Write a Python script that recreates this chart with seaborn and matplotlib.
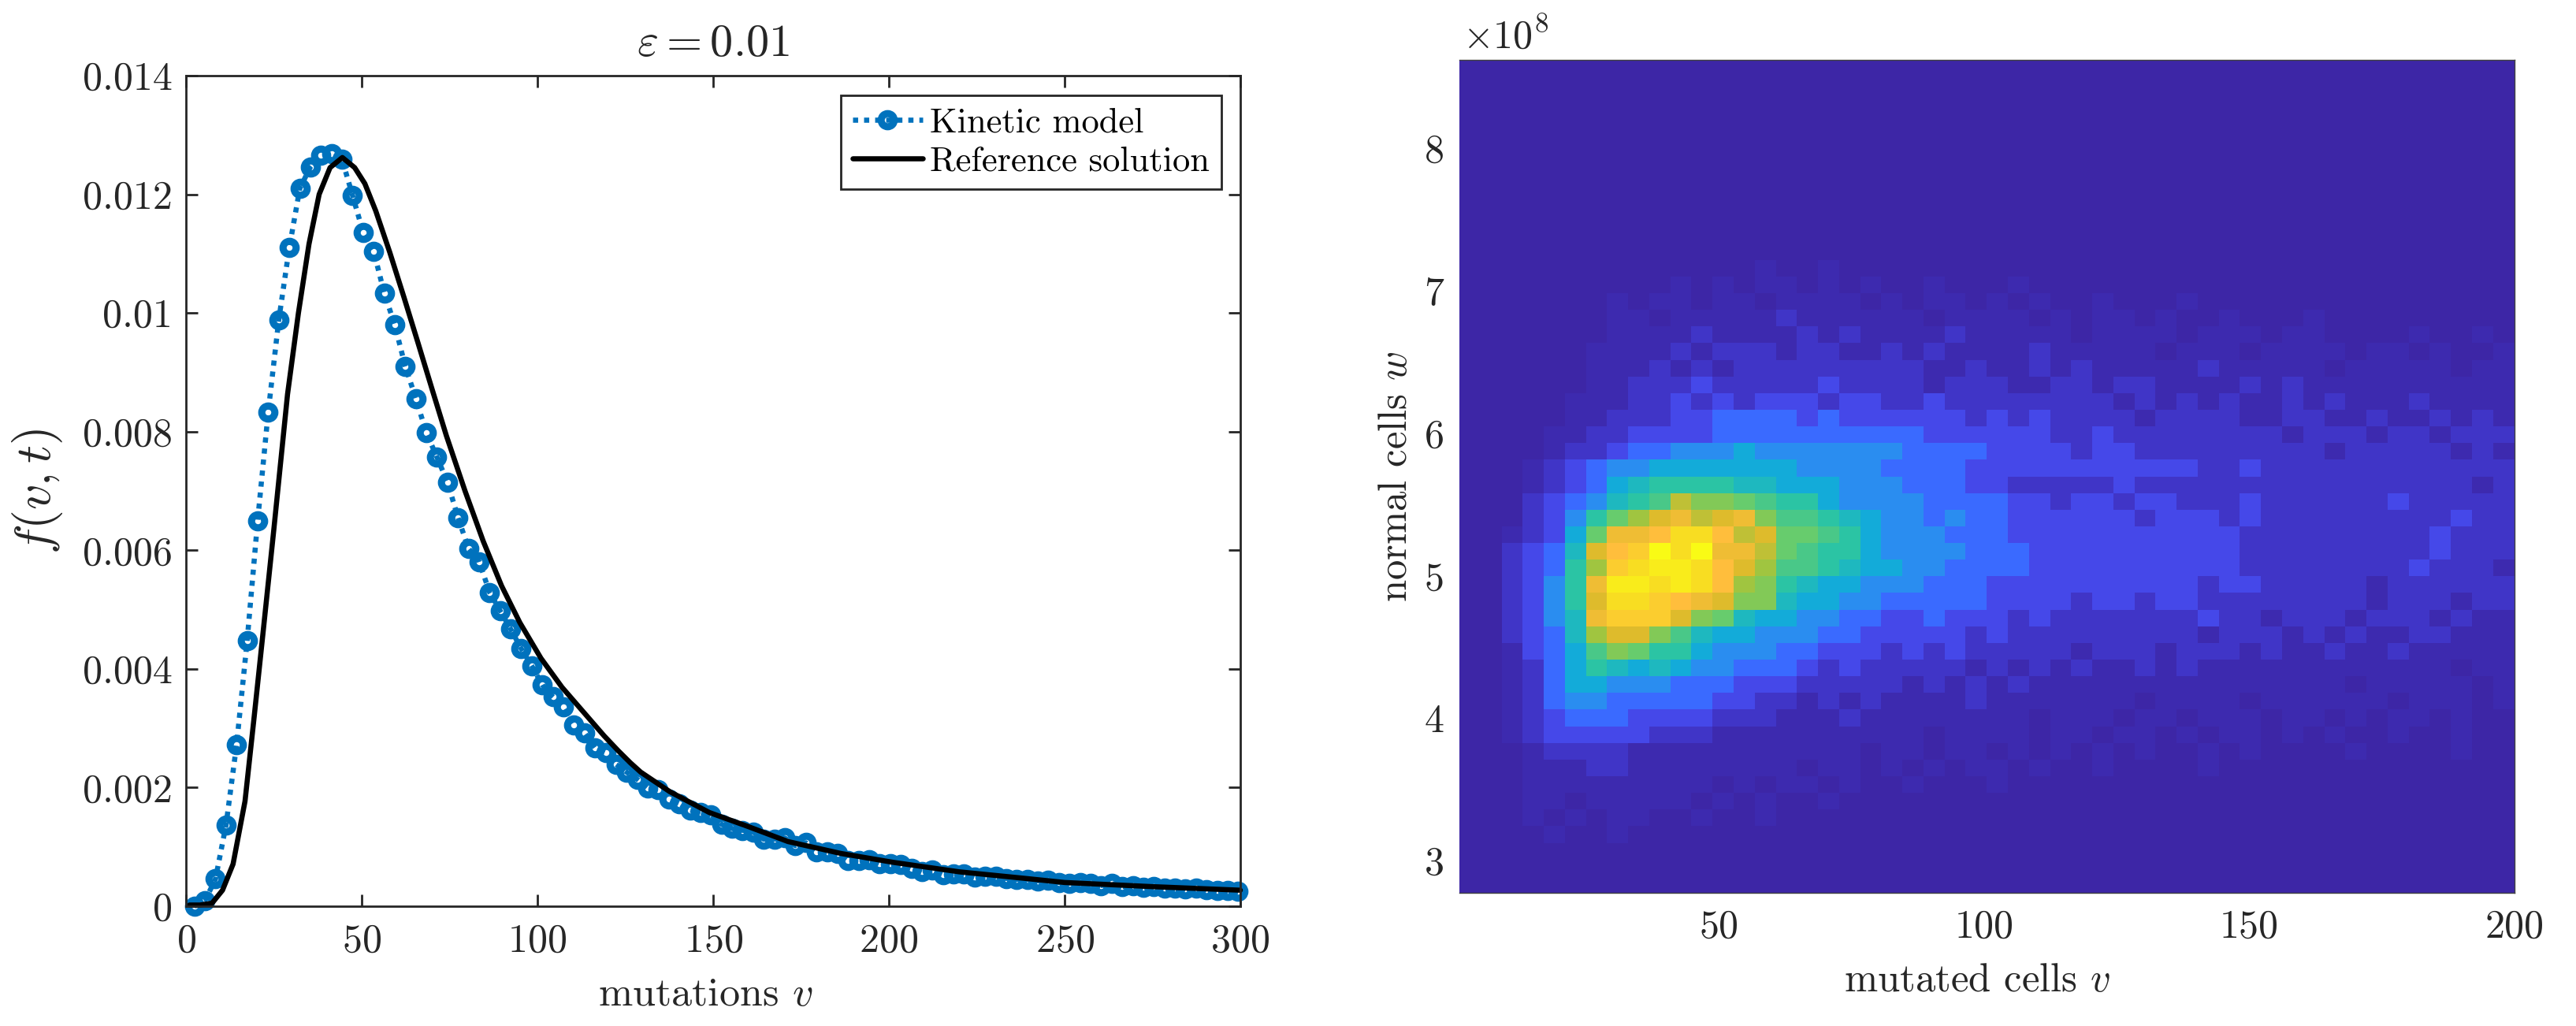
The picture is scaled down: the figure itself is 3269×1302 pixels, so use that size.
import numpy as np
import pandas as pd
import matplotlib
matplotlib.use('Agg')
import matplotlib.pyplot as plt
from matplotlib.colors import LinearSegmentedColormap
import seaborn as sns

sns.set_theme(style='white')
plt.rcParams['font.family'] = 'cmr10'
plt.rcParams['mathtext.fontset'] = 'cm'
plt.rcParams['axes.unicode_minus'] = False
plt.rcParams['axes.formatter.use_mathtext'] = True

# =============================================================================
# Data
# =============================================================================

kinetic_v = [2.4, 5.4, 8.4, 11.4, 14.4, 17.4, 20.4, 23.4, 26.4, 29.4,
             32.4, 35.4, 38.4, 41.4, 44.4, 47.4, 50.4, 53.4, 56.4, 59.4,
             62.4, 65.4, 68.4, 71.4, 74.4, 77.4, 80.4, 83.4, 86.4, 89.4,
             92.4, 95.4, 98.4, 101.4, 104.4, 107.4, 110.4, 113.4, 116.4, 119.4,
             122.4, 125.4, 128.4, 131.4, 134.4, 137.4, 140.4, 143.4, 146.4, 149.4,
             152.4, 155.4, 158.4, 161.4, 164.4, 167.4, 170.4, 173.4, 176.4, 179.4,
             182.4, 185.4, 188.4, 191.4, 194.4, 197.4, 200.4, 203.4, 206.4, 209.4,
             212.4, 215.4, 218.4, 221.4, 224.4, 227.4, 230.4, 233.4, 236.4, 239.4,
             242.4, 245.4, 248.4, 251.4, 254.4, 257.4, 260.4, 263.4, 266.4, 269.4,
             272.4, 275.4, 278.4, 281.4, 284.4, 287.4, 290.4, 293.4, 296.4, 299.4]

kinetic_f = [0.00000, 0.00009, 0.00046, 0.00137, 0.00272, 0.00447, 0.00650, 0.00833, 0.00988, 0.01110,
             0.01210, 0.01246, 0.01266, 0.01268, 0.01259, 0.01198, 0.01136, 0.01104, 0.01034, 0.00980,
             0.00910, 0.00856, 0.00798, 0.00757, 0.00715, 0.00655, 0.00603, 0.00581, 0.00529, 0.00498,
             0.00467, 0.00434, 0.00405, 0.00373, 0.00353, 0.00336, 0.00305, 0.00292, 0.00267, 0.00259,
             0.00239, 0.00226, 0.00214, 0.00199, 0.00196, 0.00180, 0.00173, 0.00162, 0.00158, 0.00154,
             0.00138, 0.00131, 0.00128, 0.00125, 0.00113, 0.00113, 0.00115, 0.00102, 0.00107, 0.00092,
             0.00092, 0.00089, 0.00077, 0.00077, 0.00078, 0.00072, 0.00072, 0.00071, 0.00064, 0.00058,
             0.00061, 0.00053, 0.00055, 0.00055, 0.00049, 0.00050, 0.00050, 0.00047, 0.00045, 0.00045,
             0.00043, 0.00044, 0.00040, 0.00039, 0.00040, 0.00038, 0.00035, 0.00038, 0.00033, 0.00034,
             0.00032, 0.00033, 0.00031, 0.00030, 0.00029, 0.00030, 0.00028, 0.00027, 0.00026, 0.00025]

reference_v = [1, 4, 7.4, 10.4, 13.4, 16.8, 19.4, 22, 25, 28.9, 32, 35, 37.9, 41, 44.5, 48,
               50.9, 54, 58, 62, 66, 70, 74.1, 79.4, 84.6, 89.8, 95, 101, 107, 113, 119, 123,
               126.4, 129.4, 137.7, 148.9, 160.1, 171.3, 186.3, 201.2, 220, 238.6, 250, 275, 300]
reference_f = [0.00002, 0.00002, 0.00005, 0.00027, 0.00071, 0.00177, 0.00319, 0.00465, 0.00635, 0.00863,
               0.01000, 0.01116, 0.01200, 0.01245, 0.01262, 0.01245, 0.01218, 0.01172, 0.01102, 0.01027,
               0.00950, 0.00872, 0.00793, 0.00700, 0.00615, 0.00540, 0.00478, 0.00418, 0.00369, 0.00328,
               0.00287, 0.00262, 0.00242, 0.00226, 0.00193, 0.00158, 0.00134, 0.00109, 0.00089, 0.00074,
               0.00058, 0.00047, 0.00040, 0.00033, 0.00027]

# colour level of each heatmap cell, 0 to K (base 21), top row first, 50 x 50
heat_rows = [
    "0000000000 0000000000 0000000000 0000000000 0000000000",
    "0000000000 0000000000 0000000000 0000000000 0000000000",
    "0000000000 0000000000 0000000000 0000000000 0000000000",
    "0000000000 0000000000 0000000000 0000000000 0000000000",
    "0000000000 0000000000 0000000000 0000000000 0000000000",
    "0000000000 0000000000 0000000000 0000000000 0000000000",
    "0000000000 0000000000 0000000000 0000000000 0000000000",
    "0000000000 0000000000 0000000000 0000000000 0000000000",
    "0000000000 0000000000 0000000000 0000000000 0000000000",
    "0000000000 0000000000 0000000000 0000000000 0000000000",
    "0000000000 0000000000 0000000000 0000000000 0000000000",
    "0000000000 0000000000 0000000000 0000000000 0000000000",
    "0000000000 0000100100 0000000000 0000000000 0000000000",
    "0000000000 1010110101 0010001000 0000000000 0000000000",
    "0000000101 1011011110 1011010100 1000100000 0000000000",
    "0000000110 1111121111 1101111010 1101001000 1000000000",
    "0000000111 1211112121 1112111110 1111011101 1000010010",
    "0000001111 2122212211 2121111211 1110111011 1101101001",
    "0000001112 1212222222 2211211212 1111121111 1011111011",
    "0000001122 2322222322 2212221122 1221111212 1111111111",
    "0000011122 3232333233 2232222222 2121212112 1211121111",
    "0000011222 3344443433 3333232322 2212222112 2112112121",
    "0000112233 3344444444 4433333322 3222222221 2221221222",
    "0000122344 5556555555 5444433332 3322222222 2122222121",
    "0001234556 6666665555 4444333333 3333322322 2222222222",
    "0001234678 8887766655 5444332222 2322222222 2222222212",
    "0002345789 DBBA988655 5544443323 3233222322 2222322222",
    "0002358ACE FDEFB99876 5545443333 3323332322 2222222322",
    "001236AFFG IIGDEAA986 5554443333 3333333222 2222223222",
    "002347EGHK IKFFDA9886 5555444333 3333333222 2222223222",
    "002348CHIJ JIGEC99876 6554444333 3333333222 2222232221",
    "002358FJJI JIGCB87665 5544433333 3333323322 2221222222",
    "002358EIIH GFEBB76655 4444433332 3323322222 2221222122",
    "002357FHHH EBA7665544 3343332322 2222232212 2212221211",
    "002347CEEB 9766555443 3333232222 2222212221 2121122111",
    "0013469BA8 8655544333 2323222221 2221222121 1211211111",
    "0012468767 6554443232 2222121212 1121211111 1111111011",
    "0012466555 4443332222 2121212111 1111111111 1101111101",
    "0012455444 4433221212 1111211111 1101111011 1111011101",
    "0012344433 3322211121 1111111011 1011011101 1010110100",
    "0012333332 2211111111 1101111011 0110101101 0100100100",
    "0001222211 1111111110 1101101010 1010010100 0010000100",
    "0001112211 1111110110 1010110100 1000010000 0000000000",
    "0001111111 1101011010 0100010000 0000000000 0000000000",
    "0001101111 1010100100 0000000000 0000000000 0000000000",
    "0001010110 0100100000 0000000000 0000000000 0000000000",
    "0000100100 0000000000 0000000000 0000000000 0000000000",
    "0000000000 0000000000 0000000000 0000000000 0000000000",
    "0000000000 0000000000 0000000000 0000000000 0000000000",
    "0000000000 0000000000 0000000000 0000000000 0000000000",
]

left_xticks = [0, 50, 100, 150, 200, 250, 300]
left_yticks = [0, 0.002, 0.004, 0.006, 0.008, 0.01, 0.012, 0.014]
left_ylabels = ['0', '0.002', '0.004', '0.006', '0.008', '0.01', '0.012', '0.014']
right_xticks = [50, 100, 150, 200]
right_yticks = [3, 4, 5, 6, 7, 8]
v_range = (1, 200)
w_range = (2.773, 8.62)

# =============================================================================
# Figure
# =============================================================================

W, H = 3269, 1302
TEXT = '#262626'
BLUE = '#0072BD'

# parula-like, with the dark end stretched the way the reference looks
parula = LinearSegmentedColormap.from_list('parula', [
    (0.00, '#3D26A6'), (0.05, '#3D2AB0'), (0.10, '#4035C8'), (0.15, '#4548EA'),
    (0.20, '#3A6AFF'), (0.25, '#2A8CF0'), (0.30, '#12ACD8'), (0.40, '#2BC4A4'),
    (0.50, '#66CC6E'), (0.60, '#A0C540'), (0.70, '#DDBB2C'), (0.80, '#FFBE3C'),
    (0.90, '#F8DC22'), (1.00, '#F9FB15')])

fig = plt.figure(figsize=(W / 100, H / 100), dpi=100, facecolor='white')
ax1 = fig.add_axes([236 / W, 1 - 1150 / H, 1338 / W, 1054 / H])
ax2 = fig.add_axes([1852 / W, 1 - 1133 / H, 1338.5 / W, 1057 / H])

# left panel
kinetic_df = pd.DataFrame({'v': kinetic_v, 'f': kinetic_f})
reference_df = pd.DataFrame({'v': reference_v, 'f': reference_f})

sns.lineplot(data=kinetic_df, x='v', y='f', ax=ax1, color=BLUE, lw=4.7,
             linestyle=(0, (1, 1.15)), marker='o', ms=12, mew=6.5,
             mfc='none', mec=BLUE, clip_on=False, errorbar=None,
             label='Kinetic model')
sns.lineplot(data=reference_df, x='v', y='f', ax=ax1, color='black', lw=4.7,
             clip_on=False, errorbar=None, label='Reference solution')

ax1.set_xlim(0, 300)
ax1.set_ylim(0, 0.014)
ax1.set_xticks(left_xticks)
ax1.set_yticks(left_yticks)
ax1.set_yticklabels(left_ylabels)
ax1.tick_params(axis='both', which='major', direction='in', length=10.5, width=2,
                color=TEXT, labelcolor=TEXT, labelsize=36, top=True, right=True,
                bottom=True, left=True)
ax1.tick_params(axis='x', pad=16)
ax1.tick_params(axis='y', pad=12)
for sp in ax1.spines.values():
    sp.set_visible(True)
    sp.set_color(TEXT)
    sp.set_linewidth(2)

ax1.set_xlabel('mutations $v$', fontsize=37.5, color=TEXT, labelpad=16)
ax1.xaxis.label.set_x(0.5 - 10 / 1338)
ax1.set_ylabel('$f(v,t)$', fontsize=46, color=TEXT, labelpad=17)
ax1.set_title(r'$\varepsilon = 0.01$', fontsize=42, color=TEXT, pad=18)

leg = ax1.legend(loc='upper right', bbox_to_anchor=(0.982, 0.976), borderaxespad=0,
                 fontsize=32, frameon=True, fancybox=False, framealpha=1,
                 edgecolor=TEXT, handlelength=2.0, handletextpad=0.22,
                 labelspacing=0.2, borderpad=0.33, numpoints=1)
leg.get_frame().set_linewidth(2)
for t in leg.get_texts():
    t.set_color('black')

# right panel
heat = np.array([[int(c, 21) for c in row.replace(' ', '')] for row in heat_rows])
sns.heatmap(heat, ax=ax2, cmap=parula, vmin=0, vmax=20, cbar=False,
            xticklabels=False, yticklabels=False, rasterized=True)

ncol = heat.shape[1]
nrow = heat.shape[0]
ax2.set_xticks([(v - v_range[0]) / (v_range[1] - v_range[0]) * ncol for v in right_xticks])
ax2.set_xticklabels([str(v) for v in right_xticks])
ax2.set_yticks([(w_range[1] - w) / (w_range[1] - w_range[0]) * nrow for w in right_yticks])
ax2.set_yticklabels([str(w) for w in right_yticks], rotation=0)
ax2.tick_params(axis='both', which='major', length=0, labelcolor=TEXT, labelsize=36)
ax2.tick_params(axis='x', pad=15)
ax2.tick_params(axis='y', pad=14)
for name, sp in ax2.spines.items():
    sp.set_visible(name != 'left')
    sp.set_color('#404040')
    sp.set_linewidth(1)

ax2.set_xlabel('mutated cells $v$', fontsize=36.5, color=TEXT, labelpad=16)
ax2.xaxis.label.set_x(0.5 - 12 / 1338)
ax2.set_ylabel('normal cells $w$', fontsize=36.5, color=TEXT, labelpad=9)
ax2.text(0.003, 1 + 15 / 1057, r'$\times 10^{8}$', transform=ax2.transAxes,
         fontsize=36, color=TEXT, ha='left', va='baseline')

plt.savefig('out.png', dpi=100)
